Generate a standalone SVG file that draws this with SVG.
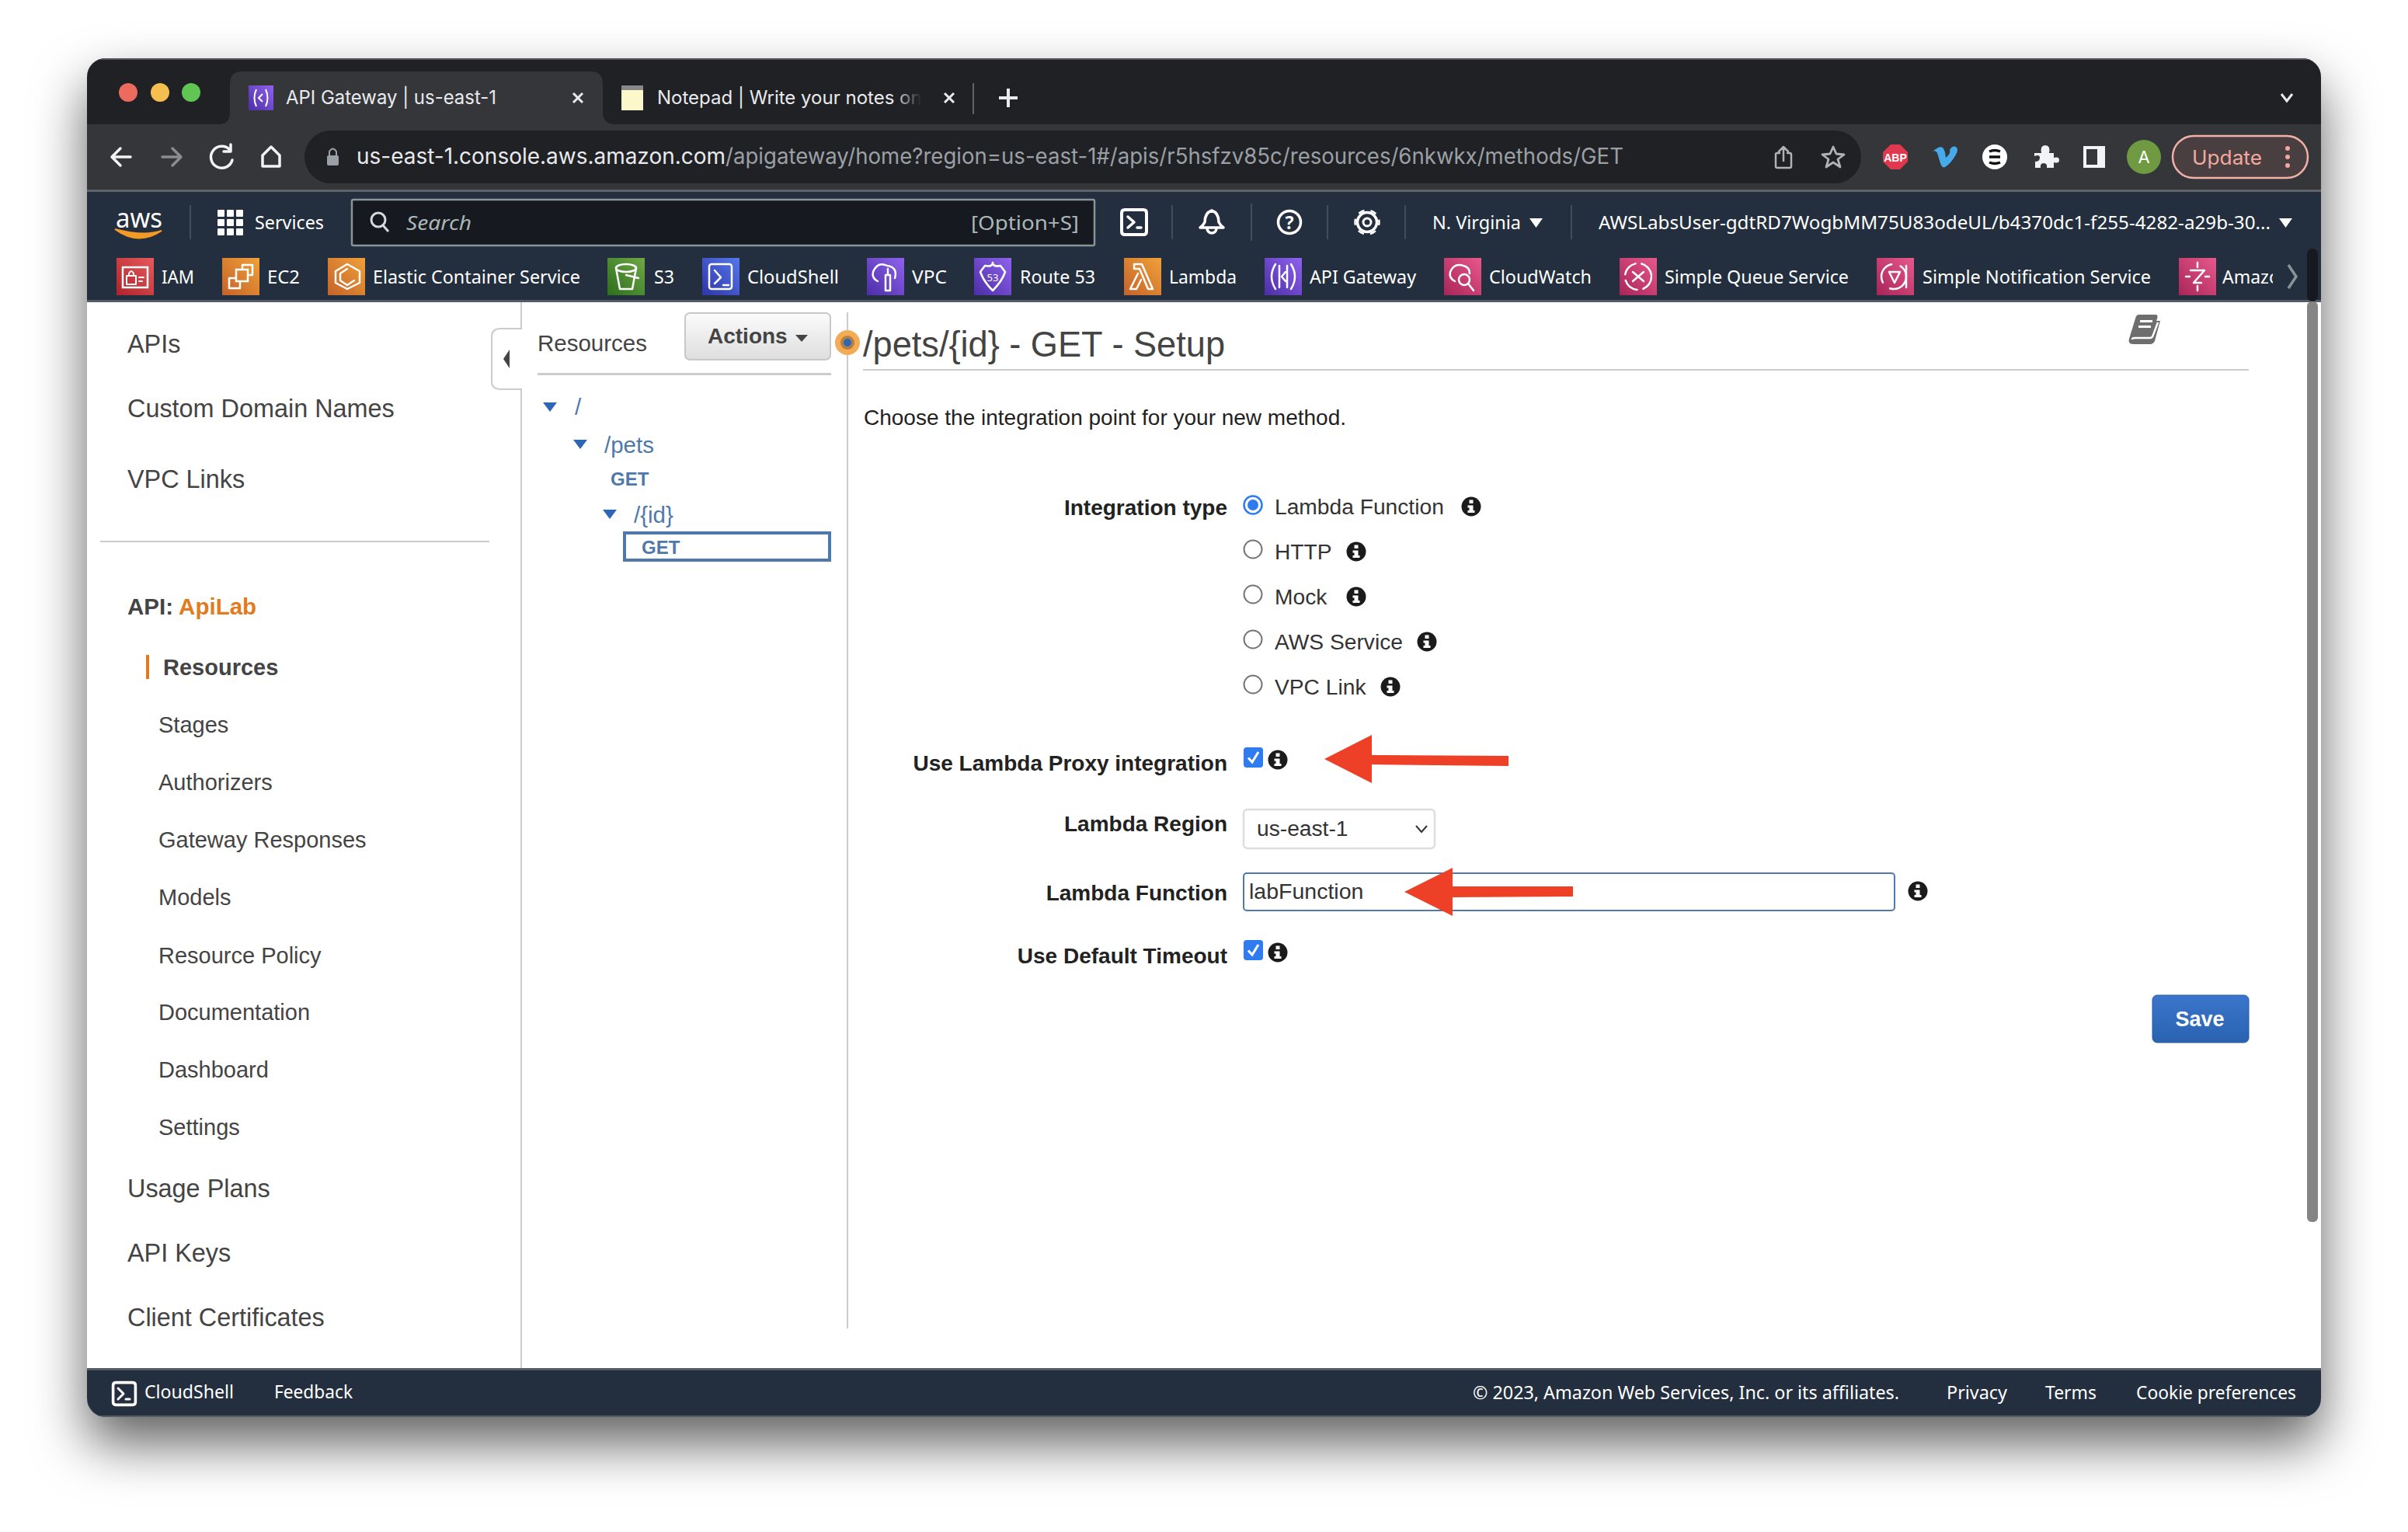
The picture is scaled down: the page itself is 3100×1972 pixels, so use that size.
<svg xmlns="http://www.w3.org/2000/svg" width="3100" height="1972" viewBox="0 0 3100 1972">
<defs>
<filter id="ws" x="-10%" y="-15%" width="120%" height="130%"><feDropShadow dx="0" dy="34" stdDeviation="34" flood-color="#000" flood-opacity=".62"/></filter>
<clipPath id="win"><rect x="112" y="75" width="2876" height="1749" rx="24"/></clipPath>
<linearGradient id="gr" x1="0" y1="1" x2="1" y2="0"><stop offset="0" stop-color="#b0222b"/><stop offset="1" stop-color="#e65a5c"/></linearGradient>
<linearGradient id="go" x1="0" y1="1" x2="1" y2="0"><stop offset="0" stop-color="#c4632a"/><stop offset="1" stop-color="#f0a038"/></linearGradient>
<linearGradient id="gg" x1="0" y1="1" x2="1" y2="0"><stop offset="0" stop-color="#2c6e1f"/><stop offset="1" stop-color="#6fa845"/></linearGradient>
<linearGradient id="gb" x1="0" y1="1" x2="1" y2="0"><stop offset="0" stop-color="#2f35a8"/><stop offset="1" stop-color="#5478ec"/></linearGradient>
<linearGradient id="gp" x1="0" y1="1" x2="1" y2="0"><stop offset="0" stop-color="#4c2ea6"/><stop offset="1" stop-color="#9062ee"/></linearGradient>
<linearGradient id="gk" x1="0" y1="1" x2="1" y2="0"><stop offset="0" stop-color="#a82558"/><stop offset="1" stop-color="#e8588c"/></linearGradient>
<linearGradient id="btn" x1="0" y1="0" x2="0" y2="1"><stop offset="0" stop-color="#fbfbfb"/><stop offset="1" stop-color="#dedede"/></linearGradient>
<linearGradient id="save" x1="0" y1="0" x2="0" y2="1"><stop offset="0" stop-color="#3a76cc"/><stop offset="1" stop-color="#2a62b0"/></linearGradient>
<linearGradient id="fade" x1="0" y1="0" x2="1" y2="0"><stop offset="0" stop-color="#202124" stop-opacity="0"/><stop offset="1" stop-color="#202124"/></linearGradient>
<clipPath id="amz"><rect x="2850" y="340" width="76" height="40"/></clipPath>
<g id="info"><circle r="12.500" fill="#1b1b1b"/><rect x="-2.500" y="-8.500" width="5" height="4.500" fill="#fff"/><path d="M-4.500-1.500H2.500V5H4.500V8H-4.500V5H-2.500V1.500H-4.500Z" fill="#fff"/></g>
<g id="radio"><circle r="11.500" fill="#fff" stroke="#767676" stroke-width="2"/></g>
<g id="check"><rect width="25" height="26" rx="4" fill="#2f7bf0"/><path d="M6 13.500L11 19L19 6" fill="none" stroke="#fff" stroke-width="3"/></g>
<g id="tri"><path d="M-9-6H9L0 6Z" fill="#2e66b5"/></g>
<path id="shell" d="M-12-16H12Q16-16 16-12V12Q16 16 12 16H-12Q-16 16-16 12V-12Q-16-16-12-16Z" fill="none" stroke="#fff" stroke-width="4"/>
</defs>
<style>
text{white-space:pre}
.ui{font-family:"Inter","Liberation Sans",sans-serif}
.nav{font-family:"Noto Sans","Open Sans",sans-serif;fill:#fff;font-size:23px}
.s{font-family:"Liberation Sans",Arial,sans-serif;fill:#444}
.sl{font-size:32.400px}
.ss{font-size:29px}
.b{font-weight:700}
.lbl{font-family:"Liberation Sans",Arial,sans-serif;font-weight:700;font-size:28px;fill:#222;text-anchor:end}
.opt{font-family:"Liberation Sans",Arial,sans-serif;font-size:28.200px;fill:#333}
.link{font-family:"Liberation Sans",Arial,sans-serif;font-size:29.500px;fill:#4f78ab}
.get{font-family:"Liberation Sans",Arial,sans-serif;font-size:24px;font-weight:700;fill:#4f78ab}
.ic{fill:none;stroke:#fff;stroke-width:2.500;stroke-linejoin:round;stroke-linecap:round}
.gi{fill:none;stroke:#f1f3f4;stroke-width:3.500;stroke-linejoin:round;stroke-linecap:round}
.dv{stroke:#414d5c;stroke-width:2}
</style>
<rect width="3100" height="1972" fill="#fff"/>
<rect id="window-shadow" x="112" y="75" width="2876" height="1749" rx="24" fill="#202124" filter="url(#ws)"/>
<g clip-path="url(#win)">
<rect x="112" y="75" width="2876" height="1749" fill="#fff"/>
<g id="tabstrip">
<rect x="112" y="75" width="2876" height="85" fill="#202124"/>
<path d="M112 76H2988" stroke="#555" stroke-width="2"/>
<circle cx="165" cy="119" r="12" fill="#ec6a5e"/><circle cx="206" cy="119" r="12" fill="#f4bf4f"/><circle cx="246" cy="119" r="12" fill="#61c554"/>
<path d="M282 160Q296 160 296 144V108Q296 92 312 92H760Q776 92 776 108V144Q776 160 792 160Z" fill="#35363a"/>
<rect x="320" y="110" width="32" height="32" fill="url(#gp)"/><path d="M330 115Q325 126 330 137M342 115Q347 126 342 137M338 121L333 126L338 131" fill="none" stroke="#fff" stroke-width="2"/>
<text class="ui" x="368" y="134" font-size="24.500" fill="#e8eaed" textLength="271" lengthAdjust="spacingAndGlyphs">API Gateway | us-east-1</text>
<path d="M738 120L750 132M750 120L738 132" stroke="#e8eaed" stroke-width="3"/>
<rect x="800" y="110" width="28" height="32" fill="#fdf8cc"/><rect x="800" y="110" width="28" height="6" fill="#888"/>
<text class="ui" x="846" y="134" font-size="24" fill="#e8eaed">Notepad | Write your notes onl</text>
<rect x="1150" y="100" width="36" height="50" fill="url(#fade)"/><rect x="1186" y="100" width="70" height="50" fill="#202124"/>
<path d="M1216 120L1228 132M1228 120L1216 132" stroke="#e8eaed" stroke-width="3"/>
<path d="M1253 107V147" stroke="#5f6368" stroke-width="2"/>
<path d="M1298 114V138M1286 126H1310" stroke="#e8eaed" stroke-width="4"/>
<path d="M2937 121L2944 130L2951 121" fill="none" stroke="#e8eaed" stroke-width="3"/>
</g>
<g id="toolbar">
<rect x="112" y="160" width="2876" height="84" fill="#35363a"/>
<rect x="112" y="244" width="2876" height="3" fill="#5f6368"/>
<rect x="392" y="168" width="2004" height="68" rx="34" fill="#202124"/>
<path class="gi" d="M168 202H146M155 191L144 202L155 213"/>
<path class="gi" style="stroke:#8a8c8e" d="M209 202H231M222 191L233 202L222 213"/>
<path class="gi" d="M296 193A14 14 0 1 0 299 206M297 186V195H288"/>
<path class="gi" d="M349 189L338 200V214H360V200Z"/>
<rect x="421" y="200" width="15" height="13" rx="2" fill="#9aa0a6"/><path d="M424 200V195Q428.500 188 433 195V200" fill="none" stroke="#9aa0a6" stroke-width="2"/>
<text class="ui" x="459" y="211" font-size="28" fill="#e8eaed" textLength="475" lengthAdjust="spacingAndGlyphs">us-east-1.console.aws.amazon.com</text>
<text class="ui" x="934" y="211" font-size="28" fill="#9aa0a6" textLength="1156" lengthAdjust="spacingAndGlyphs">/apigateway/home?region=us-east-1#/apis/r5hsfzv85c/resources/6nkwkx/methods/GET</text>
<path class="gi" style="stroke:#b0b2b4;stroke-width:2.500" d="M2291 197H2288Q2286 197 2286 199V214Q2286 216 2288 216H2304Q2306 216 2306 214V199Q2306 197 2304 197H2301M2296 207V189M2290 195L2296 189L2302 195"/>
<path class="gi" style="stroke:#b0b2b4;stroke-width:2.800" d="M2360 189L2364 198L2374 199L2366 205L2369 215L2360 209L2351 215L2354 205L2346 199L2356 198Z"/>
<path d="M2434 186H2446L2456 196V208L2446 218H2434L2424 208V196Z" fill="#e0394f"/><text x="2440" y="208" font-family="Liberation Sans,sans-serif" font-weight="700" font-size="14" fill="#fff" text-anchor="middle">ABP</text>
<path d="M2488 195Q2497 187 2501 190Q2504 193 2505 203Q2512 197 2510 193Q2513 187 2518 189Q2522 192 2518 199Q2512 210 2504 215Q2500 217 2498 210L2494 197Q2492 193 2488 195Z" fill="#46a9ea"/>
<circle cx="2568" cy="202" r="16" fill="#fff"/><path d="M2561 195Q2568 192 2575 195M2561 202H2575M2561 209Q2568 212 2575 209" stroke="#111" stroke-width="3.500" fill="none"/>
<path d="M2619 197H2628Q2626 187 2633 187Q2640 187 2638 197H2644V203Q2651 201 2651 206Q2651 211 2644 209V216H2635Q2636 210 2631 210Q2626 210 2627 216H2620V208Q2626 208 2626 203Q2626 198 2619 201Z" fill="#f1f3f4"/>
<rect x="2682" y="188" width="28" height="28" fill="#f1f3f4"/><rect x="2686" y="192" width="14" height="20" fill="#35363a"/>
<circle cx="2760" cy="202" r="22" fill="#6f9a41"/><text class="ui" x="2760" y="210" font-size="22" fill="#fff" text-anchor="middle">A</text>
<rect x="2797" y="175" width="174" height="54" rx="27" fill="#4a3f40" stroke="#f2b0a8" stroke-width="2.500"/>
<text class="ui" x="2822" y="212" font-size="25" fill="#f2a89e" textLength="90" lengthAdjust="spacingAndGlyphs">Update</text>
<circle cx="2945" cy="191" r="3" fill="#f2a89e"/><circle cx="2945" cy="202" r="3" fill="#f2a89e"/><circle cx="2945" cy="213" r="3" fill="#f2a89e"/>
</g>
<g id="aws-nav">
<rect x="112" y="247" width="2876" height="140" fill="#232f3e"/>
<rect x="112" y="386" width="2876" height="3" fill="#545b64"/>
<text x="149" y="293" font-family="Noto Sans,sans-serif" font-size="35" fill="#fff" textLength="60" lengthAdjust="spacingAndGlyphs">aws</text>
<path d="M148 293Q178 315 208 295Q186 303 148 293Z" fill="#f39a26" stroke="#f39a26" stroke-width="2" transform="translate(0,2)"/>
<path class="dv" d="M245 264V308M1509 264V308M1611 262V310M1709 264V308M1809 264V308M2023 264V308"/>
<g fill="#fff"><rect x="280" y="270" width="9" height="9" rx="1"/><rect x="292" y="270" width="9" height="9" rx="1"/><rect x="304" y="270" width="9" height="9" rx="1"/><rect x="280" y="282" width="9" height="9" rx="1"/><rect x="292" y="282" width="9" height="9" rx="1"/><rect x="304" y="282" width="9" height="9" rx="1"/><rect x="280" y="294" width="9" height="9" rx="1"/><rect x="292" y="294" width="9" height="9" rx="1"/><rect x="304" y="294" width="9" height="9" rx="1"/></g>
<text class="nav" x="328" y="295" textLength="89" lengthAdjust="spacingAndGlyphs">Services</text>
<rect x="453" y="257" width="956" height="59" rx="2" fill="#16191f" stroke="#879596" stroke-width="2.500"/>
<circle cx="487" cy="283" r="9" fill="none" stroke="#d5dbdb" stroke-width="3"/><path d="M493 290L500 298" stroke="#d5dbdb" stroke-width="3"/>
<text class="nav" x="523" y="296" font-style="italic" style="fill:#aab7b8;font-size:26px" textLength="84" lengthAdjust="spacingAndGlyphs">Search</text>
<text class="nav" x="1250" y="296" style="fill:#aab7b8;font-size:26px" textLength="139" lengthAdjust="spacingAndGlyphs">[Option+S]</text>
<use href="#shell" x="1460" y="286"/><path class="ic" style="stroke-width:3.500" d="M1452 279L1460 286L1452 293M1464 293H1469"/>
<path class="ic" style="stroke-width:3.500" d="M1560 271Q1551 274 1551 286Q1549 290 1545 293H1575Q1571 290 1569 286Q1569 274 1560 271ZM1554 294A6 6 0 0 0 1566 294"/>
<circle cx="1660" cy="286" r="14.500" fill="none" stroke="#fff" stroke-width="3.500"/><text x="1660" y="295" font-family="Noto Sans,sans-serif" font-weight="700" font-size="23" fill="#fff" text-anchor="middle">?</text>
<circle cx="1760" cy="286" r="5" fill="none" stroke="#fff" stroke-width="3"/><circle cx="1760" cy="286" r="12.500" fill="none" stroke="#fff" stroke-width="3.500"/><circle cx="1760" cy="286" r="15.500" fill="none" stroke="#fff" stroke-width="2.500" stroke-dasharray="8 8.230" stroke-dashoffset="4"/>
<text class="nav" x="1844" y="295" textLength="114" lengthAdjust="spacingAndGlyphs">N. Virginia</text>
<path d="M1969 281H1986L1977.500 293Z" fill="#fff"/>
<text class="nav" x="2058" y="295" textLength="865" lengthAdjust="spacingAndGlyphs">AWSLabsUser-gdtRD7WogbMM75U83odeUL/b4370dc1-f255-4282-a29b-30...</text>
<path d="M2934 281H2951L2942.500 293Z" fill="#fff"/>
<rect x="150" y="332" width="48" height="48" fill="url(#gr)"/><rect x="158" y="344" width="32" height="26" fill="none" stroke="#fff" stroke-width="2.500"/><path class="ic" style="stroke-width:2" d="M163 355H175V366H163ZM166 355V352Q169 346 172 352V355M179 357H185M179 362H183"/>
<text class="nav" x="208" y="365" textLength="42" lengthAdjust="spacingAndGlyphs">IAM</text>
<rect x="286" y="332" width="48" height="48" fill="url(#go)"/><rect x="304" y="347" width="15" height="15" fill="none" stroke="#fff" stroke-width="2.500"/><path class="ic" d="M312 345V341H325V354H321M303 358H295V371H309V364"/>
<text class="nav" x="344" y="365" textLength="42" lengthAdjust="spacingAndGlyphs">EC2</text>
<rect x="422" y="332" width="48" height="48" fill="url(#go)"/><path class="ic" d="M447 340L463 349V364L447 372L432 364V349ZM447 346L438 352V361L447 367L456 361"/>
<text class="nav" x="480" y="365" textLength="267" lengthAdjust="spacingAndGlyphs">Elastic Container Service</text>
<rect x="782" y="332" width="48" height="48" fill="url(#gg)"/><ellipse cx="806" cy="345" rx="13" ry="5" fill="none" stroke="#fff" stroke-width="2.500"/><path class="ic" d="M793 345L798 372H814L819 345M806 354L822 358"/>
<text class="nav" x="842" y="365" textLength="26" lengthAdjust="spacingAndGlyphs">S3</text>
<rect x="904" y="332" width="48" height="48" fill="url(#gb)"/><rect x="913" y="340" width="29" height="32" rx="3" fill="none" stroke="#fff" stroke-width="2.500"/><path class="ic" d="M920 348L928 357L920 365M931 367H938"/>
<text class="nav" x="962" y="365" textLength="118" lengthAdjust="spacingAndGlyphs">CloudShell</text>
<rect x="1116" y="332" width="48" height="48" fill="url(#gp)"/><path class="ic" d="M1130 362Q1122 358 1124 350Q1130 336 1142 342Q1156 344 1152 358M1140 354H1146V374H1140ZM1143 346V354"/>
<text class="nav" x="1174" y="365" textLength="45" lengthAdjust="spacingAndGlyphs">VPC</text>
<rect x="1254" y="332" width="48" height="48" fill="url(#gp)"/><path class="ic" d="M1268 342Q1278 344 1278 338Q1278 344 1288 342L1294 350Q1290 362 1278 374Q1266 362 1262 350Z"/><text x="1278" y="362" font-family="Noto Sans,sans-serif" font-size="13" fill="#fff" text-anchor="middle">53</text>
<text class="nav" x="1313" y="365" textLength="97" lengthAdjust="spacingAndGlyphs">Route 53</text>
<rect x="1447" y="332" width="48" height="48" fill="url(#go)"/><path class="ic" d="M1460 340H1470L1484 372H1478L1467 346H1460ZM1465 352L1455 372H1463L1469 360"/>
<text class="nav" x="1505" y="365" textLength="87" lengthAdjust="spacingAndGlyphs">Lambda</text>
<rect x="1628" y="332" width="48" height="48" fill="url(#gp)"/><path class="ic" d="M1642 340Q1632 356 1642 372M1662 340Q1672 356 1662 372M1647 342V370M1657 342V370M1655 350L1650 356L1655 362"/>
<text class="nav" x="1686" y="365" textLength="137" lengthAdjust="spacingAndGlyphs">API Gateway</text>
<rect x="1859" y="332" width="48" height="48" fill="url(#gk)"/><path class="ic" d="M1873 362Q1865 358 1867 350Q1872 338 1884 342Q1892 344 1892 352"/><circle cx="1885" cy="360" r="7" class="ic"/><path class="ic" d="M1890 365L1897 374"/>
<text class="nav" x="1917" y="365" textLength="132" lengthAdjust="spacingAndGlyphs">CloudWatch</text>
<rect x="2085" y="332" width="48" height="48" fill="url(#gk)"/><circle cx="2109" cy="356" r="17" class="ic" stroke-dasharray="20 8"/><path class="ic" d="M2102 350L2116 362M2116 350L2102 362"/>
<text class="nav" x="2143" y="365" textLength="237" lengthAdjust="spacingAndGlyphs">Simple Queue Service</text>
<rect x="2416" y="332" width="48" height="48" fill="url(#gk)"/><circle cx="2438" cy="356" r="16" class="ic" stroke-dasharray="30 12"/><path class="ic" d="M2432 350H2446L2439 364ZM2454 342V370"/>
<text class="nav" x="2475" y="365" textLength="294" lengthAdjust="spacingAndGlyphs">Simple Notification Service</text>
<rect x="2805" y="332" width="48" height="48" fill="url(#gk)"/><path class="ic" d="M2820 348H2838L2824 364H2834M2829 338V344M2829 368V374M2814 356H2819M2839 356H2844"/>
<g clip-path="url(#amz)"><text class="nav" x="2861" y="365">Amazon</text></g>
<path d="M2946 341L2956 356L2946 371" fill="none" stroke="#879596" stroke-width="3.500"/>
</g>
<g id="sidebar">
<text class="s sl" x="164" y="454">APIs</text>
<text class="s sl" x="164" y="537">Custom Domain Names</text>
<text class="s sl" x="164" y="628">VPC Links</text>
<rect x="129" y="696" width="501" height="2" fill="#ccc"/>
<text class="s b" x="164" y="791" font-size="29.500">API: <tspan fill="#e07b22">ApiLab</tspan></text>
<rect x="188" y="843" width="4" height="31" fill="#e07b22"/>
<text class="s ss b" x="210" y="869">Resources</text>
<text class="s ss" x="204" y="943">Stages</text>
<text class="s ss" x="204" y="1017">Authorizers</text>
<text class="s ss" x="204" y="1091">Gateway Responses</text>
<text class="s ss" x="204" y="1165">Models</text>
<text class="s ss" x="204" y="1240">Resource Policy</text>
<text class="s ss" x="204" y="1313">Documentation</text>
<text class="s ss" x="204" y="1387">Dashboard</text>
<text class="s ss" x="204" y="1461">Settings</text>
<text class="s sl" x="164" y="1541">Usage Plans</text>
<text class="s sl" x="164" y="1624">API Keys</text>
<text class="s sl" x="164" y="1707">Client Certificates</text>
<path d="M671 389V423H645Q633 423 633 433V491Q633 501 645 501H671V1762" fill="#fff" stroke="#ccc" stroke-width="2"/>
<path d="M648 462L656 450V474Z" fill="#444"/>
</g>
<g id="resources">
<text class="s" x="692" y="452" font-size="29.500">Resources</text>
<rect x="882" y="403" width="187" height="60" rx="6" fill="url(#btn)" stroke="#c8c8c8" stroke-width="2"/>
<text class="s b" x="911" y="442" font-size="28">Actions</text>
<path d="M1024 431H1040L1032 440Z" fill="#444"/>
<rect x="692" y="480" width="378" height="3" fill="#ccc"/>
<rect x="1090" y="402" width="2" height="1308" fill="#ccc"/>
<circle cx="1091" cy="441" r="16" fill="#f4ab55"/><circle cx="1091" cy="441" r="9" fill="#b28045"/><circle cx="1091" cy="441" r="5" fill="#2e66b5"/>
<use href="#tri" x="708" y="524"/><text class="link" x="740" y="534">/</text>
<use href="#tri" x="747" y="572"/><text class="link" x="778" y="583">/pets</text>
<text class="get" x="786" y="625">GET</text>
<use href="#tri" x="785" y="662"/><text class="link" x="816" y="673">/{id}</text>
<rect x="804" y="686" width="264" height="35" fill="#fff" stroke="#4f78ab" stroke-width="4"/>
<text class="get" x="826" y="713">GET</text>
</g>
<g id="form">
<text class="s" x="1111" y="459" font-size="47" textLength="466" lengthAdjust="spacingAndGlyphs">/pets/{id} - GET - Setup</text>
<rect x="1111" y="475" width="1784" height="2" fill="#ccc"/>
<g id="book"><path d="M2754 405H2775Q2778 405 2777.500 409L2776 413H2781L2774 439Q2772 443 2768 443H2746Q2739 443 2741 436L2749 410Q2750 405 2754 405Z" fill="#6e6e6e"/><path d="M2745 437Q2745 435 2748 435H2768Q2771 435 2772 431L2778 415" fill="none" stroke="#fff" stroke-width="2.500"/><path d="M2755 413.500H2771M2753 420.500H2769" stroke="#fff" stroke-width="3"/></g>
<text x="1112" y="547" font-family="Liberation Sans,sans-serif" font-size="28" fill="#222">Choose the integration point for your new method.</text>
<text class="lbl" x="1580" y="663">Integration type</text>
<circle cx="1613" cy="650" r="11.500" fill="#fff" stroke="#2f7bf0" stroke-width="2.500"/><circle cx="1613" cy="650" r="7" fill="#2f7bf0"/>
<text class="opt" x="1641" y="662">Lambda Function</text><use href="#info" x="1894" y="652"/>
<use href="#radio" x="1613" y="707"/><text class="opt" x="1641" y="720">HTTP</text><use href="#info" x="1746" y="710"/>
<use href="#radio" x="1613" y="765"/><text class="opt" x="1641" y="778">Mock</text><use href="#info" x="1746" y="768"/>
<use href="#radio" x="1613" y="823"/><text class="opt" x="1641" y="836">AWS Service</text><use href="#info" x="1837" y="826"/>
<use href="#radio" x="1613" y="881"/><text class="opt" x="1641" y="894">VPC Link</text><use href="#info" x="1790" y="884"/>
<text class="lbl" x="1580" y="992">Use Lambda Proxy integration</text>
<use href="#check" x="1601" y="962"/><use href="#info" x="1645" y="978"/>
<text class="lbl" x="1580" y="1070">Lambda Region</text>
<rect x="1601" y="1042" width="246" height="50" rx="5" fill="#fff" stroke="#ddd" stroke-width="2.500"/>
<text class="opt" x="1618" y="1076">us-east-1</text>
<path d="M1823 1063L1830 1071L1837 1063" fill="none" stroke="#333" stroke-width="2"/>
<text class="lbl" x="1580" y="1159">Lambda Function</text>
<rect x="1601" y="1124" width="838" height="48" rx="4" fill="#fff" stroke="#4f78ab" stroke-width="2"/>
<text class="opt" x="1608" y="1157" style="font-size:28.500px">labFunction</text>
<use href="#info" x="2469" y="1147"/>
<text class="lbl" x="1580" y="1240">Use Default Timeout</text>
<use href="#check" x="1601" y="1210"/><use href="#info" x="1645" y="1226"/>
<rect x="2771" y="1281" width="124" height="61" rx="6" fill="url(#save)" stroke="#265a9e"/>
<text x="2832" y="1321" font-family="Liberation Sans,sans-serif" font-weight="700" font-size="27" fill="#fff" text-anchor="middle">Save</text>
</g>
<g id="scrollbar">
<rect x="2970" y="320" width="14" height="68" rx="7" fill="#16191f"/>
<rect x="2970" y="388" width="14" height="1185" rx="6" fill="#858585"/>
</g>
<g id="footer">
<rect x="112" y="1762" width="2876" height="62" fill="#232f3e"/>
<rect x="112" y="1761" width="2876" height="3" fill="#545b64"/>
<rect x="112" y="1822" width="2876" height="2" fill="#545b64"/>
<use href="#shell" transform="translate(160,1794) scale(.9)"/><path class="ic" style="stroke-width:3" d="M152 1787L159 1794L152 1801M162 1801H167"/>
<text class="nav" x="186" y="1800" textLength="115" lengthAdjust="spacingAndGlyphs">CloudShell</text>
<text class="nav" x="353" y="1800" textLength="101" lengthAdjust="spacingAndGlyphs">Feedback</text>
<text class="nav" x="1896" y="1801" textLength="549" lengthAdjust="spacingAndGlyphs">© 2023, Amazon Web Services, Inc. or its affiliates.</text>
<text class="nav" x="2506" y="1801" textLength="78" lengthAdjust="spacingAndGlyphs">Privacy</text>
<text class="nav" x="2633" y="1801" textLength="66" lengthAdjust="spacingAndGlyphs">Terms</text>
<text class="nav" x="2750" y="1801" textLength="206" lengthAdjust="spacingAndGlyphs">Cookie preferences</text>
</g>
</g>
<g id="connectors">
<path d="M1705 977L1766 946V972L1942 973V986L1766 984V1008Z" fill="#ee4026"/>
<path d="M1808 1148L1870 1117V1141L2025 1141V1154L1870 1155V1179Z" fill="#ee4026"/>
</g>
</svg>
